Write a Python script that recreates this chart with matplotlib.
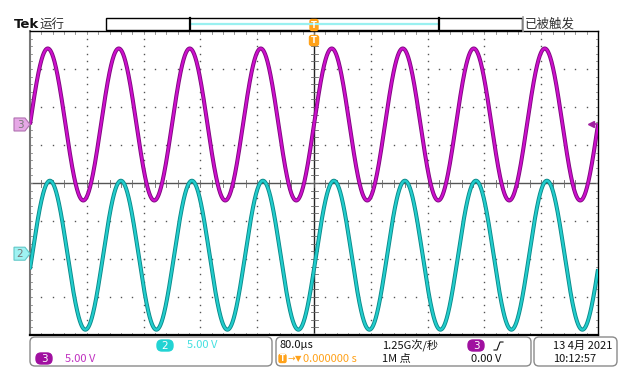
import numpy as np
import matplotlib
matplotlib.use("Agg")
import matplotlib.pyplot as plt
from matplotlib.patches import FancyBboxPatch, Polygon, Rectangle

plt.rcParams['font.family'] = ['Noto Sans CJK SC', 'DejaVu Sans']

# ---- scope settings / data ----
time_per_div_us = 80.0          # 80.0 µs/div
volts_per_div = 5.0             # both channels 5.00 V/div
h_divs = 10
v_divs = 8
signal_freq_khz = 10.0          # 100 µs period
ch3_amplitude_v = 10.0
ch3_offset_div = 1.54
ch3_lag_us = 0.0
ch2_amplitude_v = 9.8
ch2_offset_div = -1.9
ch2_lag_us = 3.0

top_left_label = "Tek"
run_label = "运行"
trig_state_label = "已被触发"
ch2_scale_label = "5.00 V"
ch3_scale_label = "5.00 V"
timebase_label = "80.0µs"
trig_pos_label = "0.000000 s"
sample_rate_label = "1.25G次/秒"
record_label = "1M 点"
trig_level_label = "0.00 V"
date_label = "13 4月 2021"
time_label = "10:12:57"

W, H = 639, 388
fig = plt.figure(figsize=(W / 100, H / 100), dpi=100)
fig.patch.set_facecolor('white')

# ---- main graticule axes ----
L, R, T, B = 30, 598, 31, 335
ax = fig.add_axes([L / W, 1 - B / H, (R - L) / W, (B - T) / H])
ax.set_xlim(-h_divs / 2, h_divs / 2)
ax.set_ylim(-v_divs / 2, v_divs / 2)
ax.set_xticks([])
ax.set_yticks([])
for s in ax.spines.values():
    s.set_color('black')
    s.set_linewidth(1.0)
ax.spines['left'].set_color('#777777')
ax.spines['left'].set_linewidth(1.5)
ax.spines['bottom'].set_linewidth(1.6)
ax.set_facecolor('white')

px_x = (R - L) / h_divs   # px per div horizontally
px_y = (B - T) / v_divs   # px per div vertically

# grid dots
minor_x = np.arange(-5, 5.001, 0.2)
minor_y = np.arange(-4, 4.001, 0.2)
for gx in range(-4, 5):
    if gx == 0:
        continue
    ax.plot(np.full_like(minor_y, gx), minor_y, ls='none', marker='s', ms=1.0,
            color='#555555', mew=0)
for gy in range(-3, 4):
    if gy == 0:
        continue
    ax.plot(minor_x, np.full_like(minor_x, gy), ls='none', marker='s', ms=1.0,
            color='#555555', mew=0)

# center cross
ax.axhline(0, color='#555555', lw=1.0)
ax.axvline(0, color='#222222', lw=1.0)
tx = 3.5 / px_x
ty = 3.5 / px_y
for yv in minor_y:
    ax.plot([-tx, tx], [yv, yv], color='#666666', lw=0.6)
for xv in minor_x:
    ax.plot([xv, xv], [-ty, ty], color='#666666', lw=0.6)

# frame ticks (inward)
ex = 2.5 / px_x
ey = 2.5 / px_y
for xv in minor_x:
    ax.plot([xv, xv], [4, 4 - ey], color='#888888', lw=0.6)
    ax.plot([xv, xv], [-4, -4 + ey], color='#888888', lw=0.6)
for yv in minor_y:
    ax.plot([5, 5 - ex], [yv, yv], color='#888888', lw=0.6)
    ax.plot([-5, -5 + ex], [yv, yv], color='#888888', lw=0.6)

# traces
t_us = np.linspace(-h_divs / 2 * time_per_div_us, h_divs / 2 * time_per_div_us, 4001)
w = 2 * np.pi * signal_freq_khz / 1000.0
ch3 = ch3_amplitude_v * np.sin(w * (t_us - ch3_lag_us))
ch2 = ch2_amplitude_v * np.sin(w * (t_us - ch2_lag_us))
xs = t_us / time_per_div_us
ax.plot(xs, ch2 / volts_per_div + ch2_offset_div, color='#0b8a8a', lw=2.9,
        solid_capstyle='butt', zorder=5)
ax.plot(xs, ch2 / volts_per_div + ch2_offset_div, color='#22cccc', lw=1.6,
        solid_capstyle='butt', zorder=6)
ax.plot(xs, ch3 / volts_per_div + ch3_offset_div, color='#800880', lw=2.9,
        solid_capstyle='butt', zorder=5)
ax.plot(xs, ch3 / volts_per_div + ch3_offset_div, color='#cc10cc', lw=1.6,
        solid_capstyle='butt', zorder=6)

# trigger level arrow on right (ch3 at 0 V)
ax.plot([4.88], [ch3_offset_div], marker='<', ms=5, color='#a020a0', clip_on=False, zorder=7)
ax.plot([4.9, 5.0], [ch3_offset_div, ch3_offset_div], color='#a020a0', lw=1.2, zorder=7)

# ---- overlay axes in pixel coords ----
ov = fig.add_axes([0, 0, 1, 1], facecolor='none')
ov.set_xlim(0, W)
ov.set_ylim(H, 0)
ov.axis('off')

# top bar
ov.add_patch(Rectangle((106, 18), 416, 12, fill=False, ec='black', lw=1.0))
ov.plot([190, 439], [23.5, 23.5], color='#9af0f0', lw=1.6)
ov.plot([190, 190], [18, 30], color='black', lw=1.6)
ov.plot([439, 439], [18, 30], color='black', lw=1.6)
ov.plot([522.5, 522.5], [17, 31], color='#999999', lw=1.2)

ov.text(14, 24, top_left_label, fontsize=9.5, fontweight='bold', va='center', ha='left',
        family=['DejaVu Sans'], color='#111111')
ov.text(40, 24, run_label, fontsize=9, va='center', ha='left', color='#333333')
ov.text(525, 24, trig_state_label, fontsize=9, va='center', ha='left', color='#333333')

# trigger position markers (orange T)
orange = '#ffa21a'
ov.add_patch(FancyBboxPatch((310.5, 20), 7, 10, boxstyle='round,pad=0.5,rounding_size=2',
                            fc=orange, ec=orange))
ov.text(314, 25, 'T', fontsize=6, color='white', ha='center', va='center',
        family=['DejaVu Sans'], fontweight='bold')
ov.add_patch(FancyBboxPatch((310, 36), 8, 9, boxstyle='round,pad=0.5,rounding_size=2',
                            fc=orange, ec=orange))
ov.text(314, 40.5, 'T', fontsize=6, color='white', ha='center', va='center',
        family=['DejaVu Sans'], fontweight='bold')


# channel ground markers on left
def ch_marker(yc, fc, ec, label):
    pts = [(14, yc - 6.5), (25, yc - 6.5), (30, yc), (25, yc + 6.5), (14, yc + 6.5)]
    ov.add_patch(Polygon(pts, closed=True, fc=fc, ec=ec, lw=0.8))
    ov.text(20, yc + 0.5, label, fontsize=7.5, color='#777777', ha='center', va='center',
            family=['DejaVu Sans'])


y0 = (T + B) / 2
ch_marker(y0 - ch3_offset_div * px_y, '#e6a8e6', '#b070b0', '3')
ch_marker(y0 - ch2_offset_div * px_y - 1.5, '#9ff2f2', '#60c8c8', '2')

# bottom panels
for (x0, x1) in [(30, 272), (276, 531), (534, 617)]:
    ov.add_patch(FancyBboxPatch((x0 + 3, 340), x1 - x0 - 6, 23,
                                boxstyle='round,pad=3,rounding_size=5',
                                fc='white', ec='#8a8a8a', lw=1.0))


def pill(xc, yc, fc, label):
    ov.add_patch(FancyBboxPatch((xc - 6, yc - 3.5), 12, 7,
                                boxstyle='round,pad=2,rounding_size=5', fc=fc, ec=fc))
    ov.text(xc, yc + 0.5, label, fontsize=7.5, color='white', ha='center', va='center',
            family=['DejaVu Sans'])


pill(165, 345.5, '#22d3d3', '2')
ov.text(187, 345.5, ch2_scale_label, fontsize=8, color='#44e0e0', va='center', ha='left')
pill(44, 358.5, '#a010a0', '3')
ov.text(65, 358.5, ch3_scale_label, fontsize=8, color='#c030c0', va='center', ha='left')

ov.text(279, 345.5, timebase_label, fontsize=8, color='#111111', va='center', ha='left')
ov.add_patch(FancyBboxPatch((279.5, 355), 6, 7, boxstyle='round,pad=0.5,rounding_size=1.5',
                            fc=orange, ec=orange))
ov.text(282.5, 358.5, 'T', fontsize=5.5, color='white', ha='center', va='center',
        family=['DejaVu Sans'], fontweight='bold')
ov.text(287, 358.5, '→', fontsize=6.5, color=orange, ha='left', va='center',
        family=['DejaVu Sans'])
ov.text(295, 358.5, '▼', fontsize=6, color=orange, ha='left', va='center',
        family=['DejaVu Sans'])
ov.text(303, 358.5, trig_pos_label, fontsize=8, color=orange, ha='left', va='center')

ov.text(382, 345.5, sample_rate_label, fontsize=8, color='#111111', va='center', ha='left')
ov.text(382, 358.5, record_label, fontsize=8, color='#111111', va='center', ha='left')
pill(476, 345.5, '#a010a0', '3')
ov.plot([494, 497, 500, 503], [350, 350, 342, 342], color='#111111', lw=0.8)
ov.text(471, 358.5, trig_level_label, fontsize=8, color='#111111', va='center', ha='left')

ov.text(553, 345.5, date_label, fontsize=8, color='#111111', va='center', ha='left')
ov.text(553, 358.5, time_label, fontsize=8, color='#111111', va='center', ha='left')

fig.savefig('out.png', dpi=100, facecolor='white')
